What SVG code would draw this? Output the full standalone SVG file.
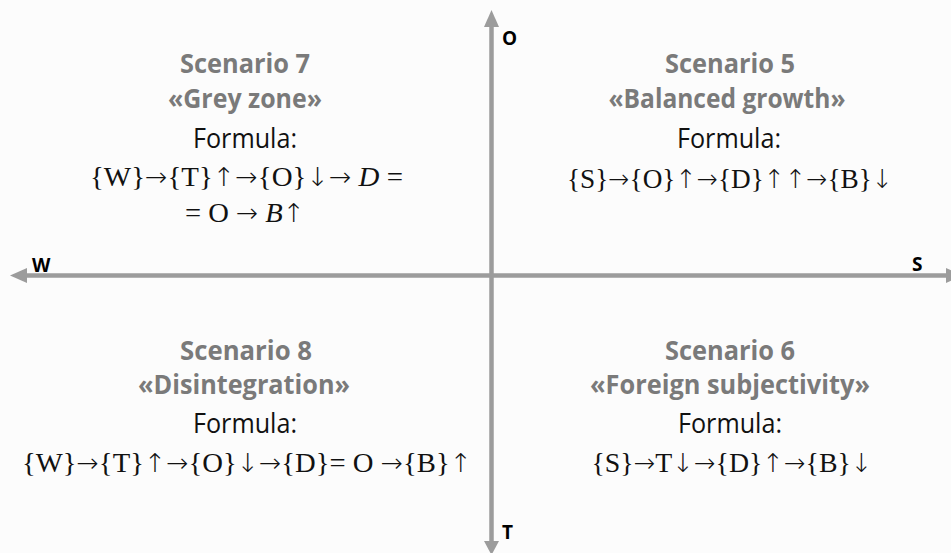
<svg xmlns="http://www.w3.org/2000/svg" width="951" height="553" viewBox="0 0 951 553">
<style>
.h{font-family:"Open Sans","Liberation Sans",sans-serif;font-weight:bold;font-size:26px;fill:#7a7a7a;text-anchor:middle}
.f{font-family:"Open Sans","Liberation Sans",sans-serif;font-size:27px;fill:#111;text-anchor:middle}
.m{font-family:"Liberation Serif","Times New Roman",serif;font-size:28px;fill:#111;text-anchor:middle}
.a{font-family:"DejaVu Sans",sans-serif;font-size:26px;font-weight:200}
.ax{stroke:#9c9c9c;stroke-width:4.5;fill:none}
.ah{fill:#9c9c9c}
.lb{font-family:"Open Sans","Liberation Sans",sans-serif;font-weight:bold;font-size:19px;fill:#000}
</style>
<rect width="951" height="553" fill="#fcfcfc"/>
<g id="connectors">
<line class="ax" x1="491.5" y1="26" x2="491.5" y2="542"/>
<polygon class="ah" points="491.5,10 484,27 499,27"/>
<polygon class="ah" points="491.5,555 484,541 499,541"/>
<line class="ax" x1="26" y1="275.5" x2="947" y2="275.5"/>
<polygon class="ah" points="10,275.5 27,268 27,283"/>
<polygon class="ah" points="963,275.5 946,268 946,283"/>
</g>
<g id="axis-labels">
<text class="lb" x="502" y="45">O</text>
<text class="lb" x="32" y="272">W</text>
<text class="lb" x="912" y="271">S</text>
<text class="lb" x="502" y="539">T</text>
</g>
<g id="scenario7">
<text class="h" x="245" y="73" textLength="130" lengthAdjust="spacingAndGlyphs">Scenario 7</text>
<text class="h" x="245" y="108" textLength="154" lengthAdjust="spacingAndGlyphs">«Grey zone»</text>
<text class="f" x="245" y="148" textLength="104" lengthAdjust="spacingAndGlyphs">Formula:</text>
<text class="m" x="246.5" y="186" textLength="313" lengthAdjust="spacingAndGlyphs">{W}<tspan class="a">→</tspan>{T}<tspan class="a">↑→</tspan>{O}<tspan class="a">↓→</tspan> <tspan font-style="italic">D</tspan> =</text>
<text class="m" x="245" y="222" textLength="120" lengthAdjust="spacingAndGlyphs">= O <tspan class="a">→</tspan> <tspan font-style="italic">B</tspan><tspan class="a">↑</tspan></text>
</g>
<g id="scenario5">
<text class="h" x="730" y="73" textLength="130" lengthAdjust="spacingAndGlyphs">Scenario 5</text>
<text class="h" x="727" y="108" textLength="237" lengthAdjust="spacingAndGlyphs">«Balanced growth»</text>
<text class="f" x="729" y="148" textLength="104" lengthAdjust="spacingAndGlyphs">Formula:</text>
<text class="m" x="730" y="188" textLength="326" lengthAdjust="spacingAndGlyphs">{S}<tspan class="a">→</tspan>{O}<tspan class="a">↑→</tspan>{D}<tspan class="a">↑↑→</tspan>{B}<tspan class="a">↓</tspan></text>
</g>
<g id="scenario8">
<text class="h" x="246" y="360" textLength="132" lengthAdjust="spacingAndGlyphs">Scenario 8</text>
<text class="h" x="244" y="394" textLength="212" lengthAdjust="spacingAndGlyphs">«Disintegration»</text>
<text class="f" x="245" y="433" textLength="104" lengthAdjust="spacingAndGlyphs">Formula:</text>
<text class="m" x="247" y="472" textLength="450" lengthAdjust="spacingAndGlyphs">{W}<tspan class="a">→</tspan>{T}<tspan class="a">↑→</tspan>{O}<tspan class="a">↓→</tspan>{D}= O <tspan class="a">→</tspan>{B}<tspan class="a">↑</tspan></text>
</g>
<g id="scenario6">
<text class="h" x="730" y="360" textLength="130" lengthAdjust="spacingAndGlyphs">Scenario 6</text>
<text class="h" x="730" y="394" textLength="280" lengthAdjust="spacingAndGlyphs">«Foreign subjectivity»</text>
<text class="f" x="730" y="433" textLength="104" lengthAdjust="spacingAndGlyphs">Formula:</text>
<text class="m" x="732" y="472" textLength="281" lengthAdjust="spacingAndGlyphs">{S}<tspan class="a">→</tspan>T<tspan class="a">↓→</tspan>{D}<tspan class="a">↑→</tspan>{B}<tspan class="a">↓</tspan></text>
</g>
</svg>
